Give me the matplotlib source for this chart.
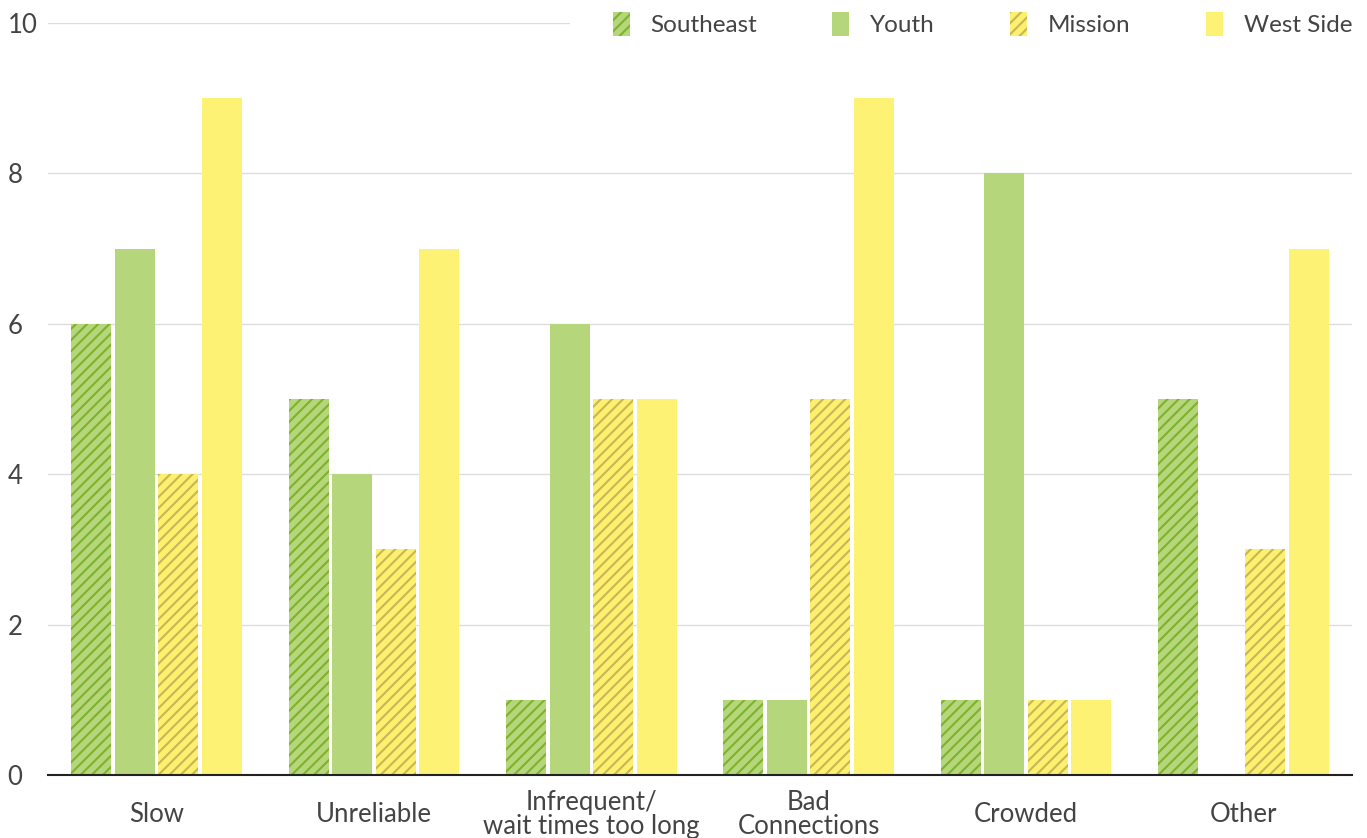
import matplotlib.pyplot as plt
from matplotlib.patches import Rectangle
import numpy as np

# === Data ===
categories = ["Slow", "Unreliable", "Infrequent/\nwait times too long",
              "Bad\nConnections", "Crowded", "Other"]
series = ["Southeast", "Youth", "Mission", "West Side"]
southeast = [6, 5, 1, 1, 1, 5]
youth = [7, 4, 6, 1, 8, 0]
mission = [4, 3, 5, 5, 1, 3]
west_side = [9, 7, 5, 9, 1, 7]
values = [southeast, youth, mission, west_side]

face_colors = ["#b5d67b", "#b5d67b", "#fdf06f", "#fef274"]
hatch_colors = ["#7db32b", None, "#c8b556", None]
hatches = ["///", None, "///", None]

plt.rcParams['font.family'] = ['Lato', 'DejaVu Sans']
plt.rcParams['hatch.linewidth'] = 1.5
text_color = "#444444"
fs = 18.5

# === Plot ===
W, H = 1367, 838
fig = plt.figure(figsize=(W / 100, H / 100), dpi=100)
ax = fig.add_axes([48 / W, 63 / H, 1304 / W, 752 / H])

x = np.arange(len(categories))
step = 0.2
width = 0.184
for i, (name, vals) in enumerate(zip(series, values)):
    offs = (i - 1.5) * step
    if hatches[i]:
        ax.bar(x + offs, vals, width, color=face_colors[i], edgecolor=hatch_colors[i],
               hatch=hatches[i], linewidth=0, label=name, zorder=2)
    else:
        ax.bar(x + offs, vals, width, color=face_colors[i], linewidth=0,
               label=name, zorder=2)

# === Axes styling ===
ax.set_xlim(-0.5, len(categories) - 0.5)
ax.set_ylim(0, 10)
ax.set_yticks(range(0, 11, 2))
ax.grid(axis='y', color='#dddddd', linewidth=1, zorder=0)
ax.set_axisbelow(True)
for s in ['top', 'right', 'left']:
    ax.spines[s].set_visible(False)
ax.spines['bottom'].set_color('#222222')
ax.spines['bottom'].set_linewidth(1.5)
ax.spines['bottom'].set_zorder(3)

ax.set_xticks(x)
ax.set_xticklabels(categories, fontsize=fs, color=text_color, linespacing=0.95)
for lbl in ax.get_xticklabels():
    lbl.set_verticalalignment('center')
ax.tick_params(axis='x', length=0, pad=28.5)
ax.tick_params(axis='y', length=0, pad=29, labelsize=fs, labelcolor=text_color)
for lbl in ax.get_yticklabels():
    lbl.set_horizontalalignment('left')

# white band behind the legend hides the top gridline
fig.patches.append(Rectangle((570 / W, (H - 38) / H), (W - 570) / W, 30 / H,
                             transform=fig.transFigure, facecolor='white',
                             edgecolor='none', zorder=5))

# === Legend ===
leg = fig.legend(loc='center right', bbox_to_anchor=(1352 / W, (H - 24) / H), ncol=4,
                 frameon=False, fontsize=17.5, handlelength=0.7, handleheight=1.15,
                 handletextpad=0.85, columnspacing=3.1, borderaxespad=0, borderpad=0)
leg.set_zorder(6)
for t in leg.get_texts():
    t.set_color(text_color)

plt.savefig("out.png", dpi=100)
